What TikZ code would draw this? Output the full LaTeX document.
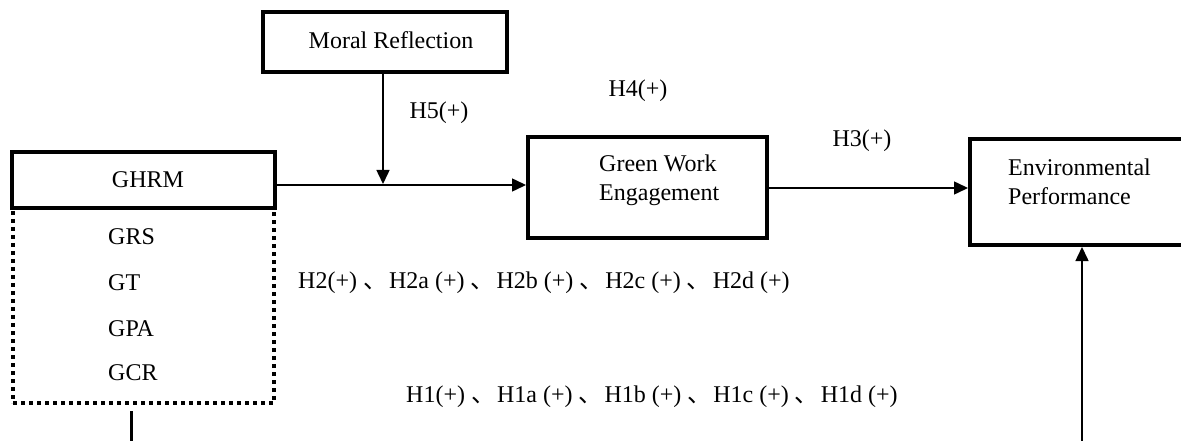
\documentclass[tikz,border=0pt]{standalone}
\usepackage{fontspec}
\setmainfont{Liberation Serif}
\newfontfamily\cjk{Noto Sans CJK SC}
\usetikzlibrary{arrows.meta}
\newcommand{\dun}{ {\cjk 、}\hspace{2pt}}
\begin{document}
\begin{tikzpicture}[x=1pt,y=-1pt,
  thickbox/.style={draw, line width=4pt, inner sep=0pt, rectangle},
  dotbox/.style={draw, line width=4pt, dash pattern=on 4pt off 4pt, inner sep=0pt, rectangle},
  lbl/.style={font=\fontsize{24}{29}\selectfont, inner sep=0pt},
  arr/.style={line width=1.5pt, -{Triangle[length=14pt,width=13pt]}}]
\useasboundingbox (0,0) rectangle (1181,441);
% dotted dimensions box
\node[dotbox, minimum width=261pt, minimum height=195pt] (dims) at (143.5,305.5) {};
% boxes
\node[thickbox, minimum width=244pt, minimum height=60pt] (mr) at (385,42) {};
\node[lbl] (mrT) at (391,40) {Moral Reflection};
\node[thickbox, minimum width=263pt, minimum height=56pt] (ghrm) at (143.5,180) {};
\node[lbl] (ghrmT) at (148,180) {GHRM};
\node[thickbox, minimum width=239pt, minimum height=101pt] (gwe) at (647.5,187.5) {};
\node[lbl, align=left, anchor=west] (gweT) at (599,180) {Green Work\\Engagement};
\node[thickbox, minimum width=230pt, minimum height=106pt] (ep) at (1085,192) {};
\node[lbl, align=left, anchor=west] (epT) at (1008,182) {Environmental\\Performance};
% dimension labels
\node[lbl, anchor=west] (grs) at (108,237) {GRS};
\node[lbl, anchor=west] (gt) at (108,283) {GT};
\node[lbl, anchor=west] (gpa) at (108,329) {GPA};
\node[lbl, anchor=west] (gcr) at (108,373) {GCR};
% connectors
\coordinate (j) at (383,184);
\coordinate (yl) at (0,185);
\coordinate (y2) at (0,188);
\coordinate (epin) at (1082,445);
\coordinate (dimout) at (131,445);
\draw[arr] (mr.south -| j) -- (j);
\draw[arr] (ghrm.east |- yl) -- (gwe.west |- yl);
\draw[arr] (gwe.east |- y2) -- (ep.west |- y2);
\draw[arr] (epin) -- (ep.south -| epin);
\draw[line width=3pt, shorten <=6pt] (dims.south -| dimout) -- (dimout);
% hypothesis labels
\node[lbl] (h5) at (439,113) {H5(+)};
\node[lbl] (h4) at (638,91) {H4(+)};
\node[lbl] (h3) at (862,141) {H3(+)};
\node[lbl, anchor=west] (h2) at (298,283) {H2(+)\dun H2a (+)\dun H2b (+)\dun H2c (+)\dun H2d (+)};
\node[lbl, anchor=west] (h1) at (406,397) {H1(+)\dun H1a (+)\dun H1b (+)\dun H1c (+)\dun H1d (+)};
\end{tikzpicture}
\end{document}
